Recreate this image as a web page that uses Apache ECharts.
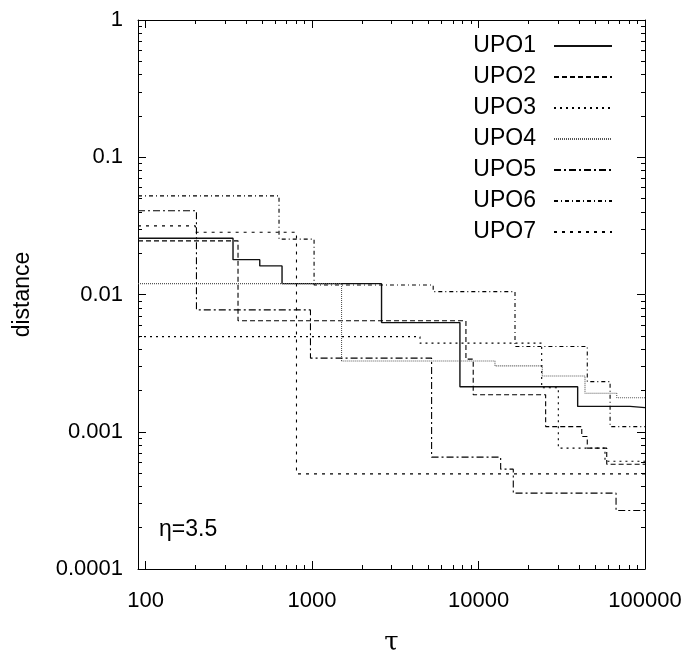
<!DOCTYPE html>
<html>
<head>
<meta charset="utf-8">
<script src="https://cdn.jsdelivr.net/npm/echarts@6/dist/echarts.min.js"></script>
<style>html,body{margin:0;padding:0;background:#fff}#c{width:682px;height:658px}</style>
</head>
<body>
<div id="c"></div>
<script>
// ---- data ----
const seriesNames = ['UPO1','UPO2','UPO3','UPO4','UPO5','UPO6','UPO7'];

const upo1X = [90, 335, 485, 660, 2614, 7730, 39400, 81300, 100000];
const upo1Y = [0.0257, 0.01795, 0.01616, 0.0120, 0.00624, 0.00213, 0.00153, 0.00150, 0.00150];

const upo2X = [90, 359, 8400, 9290, 25300, 41700, 45000, 58900, 100000];
const upo2Y = [0.0246, 0.00643, 0.00338, 0.00186, 0.00109, 0.000923, 0.00076, 0.00058, 0.00058];

const upo3X = [90, 4450, 23950, 30150, 57500, 100000];
const upo3Y = [0.00493, 0.00442, 0.00209, 0.00076, 0.00061, 0.00061];

const upo4X = [90, 1503, 12550, 24150, 43600, 67650, 100000];
const upo4Y = [0.0120, 0.00328, 0.00302, 0.00255, 0.00191, 0.00177, 0.00177];

const upo5X = [90, 202, 978, 5224, 13580, 16170, 67000, 100000];
const upo5Y = [0.0408, 0.00772, 0.00344, 0.000653, 0.000534, 0.000357, 0.000267, 0.000267];

const upo6X = [90, 633, 1028, 5340, 16560, 45000, 61700, 100000];
const upo6Y = [0.0523, 0.0253, 0.01174, 0.0105, 0.00418, 0.00232, 0.00109, 0.00109];

const upo7X = [90, 199, 806, 100000];
const upo7Y = [0.0316, 0.0284, 0.000493, 0.000493];

const xMajor = [100, 1000, 10000, 100000];
const xTickLabels = ['100', '1000', '10000', '100000'];
const yMajor = [0.0001, 0.001, 0.01, 0.1, 1];
const yTickLabels = ['0.0001', '0.001', '0.01', '0.1', '1'];
const xMin = 90, xMax = 100000, yMin = 0.0001, yMax = 1;

// minor tick positions (2..9 within each decade)
const xMinor = [];
[100, 1000, 10000].forEach(d => { for (let m = 2; m <= 9; m++) xMinor.push(m * d); });
const yMinor = [];
[0.0001, 0.001, 0.01, 0.1].forEach(d => { for (let m = 2; m <= 9; m++) yMinor.push(+(m * d).toPrecision(6)); });

const xs = [upo1X, upo2X, upo3X, upo4X, upo5X, upo6X, upo7X];
const ys = [upo1Y, upo2Y, upo3Y, upo4Y, upo5Y, upo6Y, upo7Y];
const styles = [
  {type: 'solid', color: '#111', width: 1.4},
  {type: [5, 3], color: '#000', width: 1.1},
  {type: [2, 4], color: '#000', width: 1.1},
  {type: [1, 1], color: '#555', width: 1.1},
  {type: [7, 3, 2, 3], color: '#000', width: 1.1},
  {type: [4, 3, 1, 3], color: '#000', width: 1.1},
  {type: [3, 5], color: '#000', width: 1.1}
];

const FONT = "'Liberation Sans',Arial,Helvetica,sans-serif";
const lineSt = {color: '#000', width: 1};

function xAxisDef(pos, major, showLine) {
  return {
    type: 'log', logBase: 10, gridIndex: 0, position: pos, min: xMin, max: xMax,
    name: (pos === 'bottom' && major) ? 'τ' : '',
    nameLocation: 'middle', nameGap: 61,
    nameTextStyle: {fontFamily: "'DejaVu Serif','Liberation Serif',serif", fontSize: 26, color: '#000'},
    axisLine: {show: showLine, onZero: false, lineStyle: lineSt},
    axisTick: {show: true, inside: true, length: major ? 8 : 4, customValues: major ? xMajor : xMinor, lineStyle: lineSt},
    axisLabel: (pos === 'bottom' && major) ? {
      show: true, customValues: xMajor, margin: 21, color: '#000', fontFamily: FONT, fontSize: 22,
      formatter: v => xTickLabels[Math.round(Math.log10(v)) - 2]
    } : {show: false},
    splitLine: {show: false}, minorTick: {show: false}
  };
}
function yAxisDef(pos, major, showLine) {
  return {
    type: 'log', logBase: 10, gridIndex: 0, position: pos, min: yMin, max: yMax,
    name: (pos === 'left' && major) ? 'distance' : '',
    nameLocation: 'middle', nameGap: 104, nameRotate: 90,
    nameTextStyle: {fontFamily: FONT, fontSize: 23, color: '#000'},
    axisLine: {show: showLine, onZero: false, lineStyle: lineSt},
    axisTick: {show: true, inside: true, length: major ? 8 : 4, customValues: major ? yMajor : yMinor, lineStyle: lineSt},
    axisLabel: (pos === 'left' && major) ? {
      show: true, customValues: yMajor, margin: 15, color: '#000', fontFamily: FONT, fontSize: 22,
      formatter: v => yTickLabels[Math.round(Math.log10(v)) + 4]
    } : {show: false},
    splitLine: {show: false}, minorTick: {show: false}
  };
}

const series = seriesNames.map((n, i) => ({
  name: n, type: 'line', xAxisIndex: 0, yAxisIndex: 0,
  step: 'end', symbol: 'none', showSymbol: false, animation: false,
  data: xs[i].map((x, j) => [x, ys[i][j]]),
  lineStyle: styles[i], itemStyle: {color: styles[i].color},
  emphasis: {disabled: true}
}));

const chart = echarts.init(document.getElementById('c'), null, {renderer: 'canvas'});
chart.setOption({
  animation: false,
  backgroundColor: '#fff',
  grid: {left: 138, right: 37, top: 20, bottom: 89, containLabel: false, outerBoundsMode: 'none'},
  xAxis: [xAxisDef('bottom', true, true), xAxisDef('bottom', false, false), xAxisDef('top', true, true), xAxisDef('top', false, false)],
  yAxis: [yAxisDef('left', true, true), yAxisDef('left', false, false), yAxisDef('right', true, true), yAxisDef('right', false, false)],
  legend: {
    show: true, orient: 'vertical', right: 64, top: 28, align: 'right',
    itemWidth: 58, itemHeight: 14, itemGap: 5, selectedMode: false,
    itemStyle: {opacity: 0},
    data: seriesNames,
    textStyle: {fontFamily: FONT, fontSize: 23, lineHeight: 26, color: '#000', padding: [0, 13, 0, 0]}
  },
  graphic: [{
    type: 'text', left: 159, top: 518,
    style: {text: 'η=3.5', font: "23px " + FONT, fill: '#000'}
  }],
  series: series
});
</script>
</body>
</html>
